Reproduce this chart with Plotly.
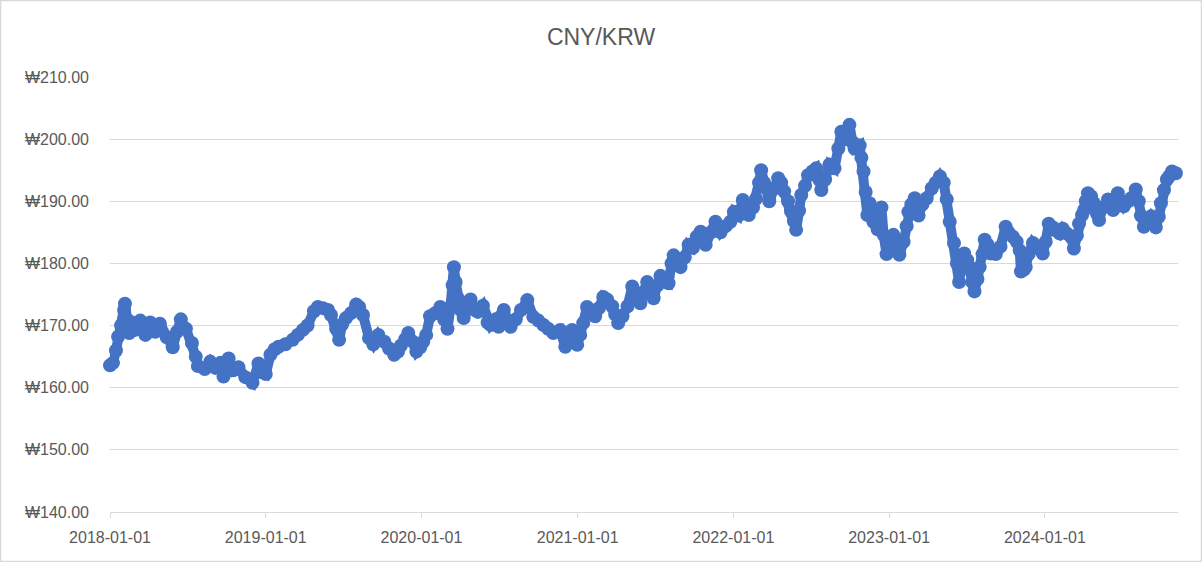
import plotly.graph_objects as go

# CNY/KRW daily rate (roughly weekly samples)
dates = [
    "2018-01-01", "2018-01-08", "2018-01-15", "2018-01-20", "2018-01-27", "2018-02-03", "2018-02-05",
    "2018-02-10", "2018-02-15", "2018-02-22", "2018-03-01", "2018-03-13", "2018-03-25", "2018-04-05",
    "2018-04-17", "2018-04-28", "2018-05-14", "2018-05-28", "2018-06-07", "2018-06-16", "2018-06-28",
    "2018-07-12", "2018-07-21", "2018-07-26", "2018-08-11", "2018-08-24", "2018-09-05", "2018-09-17",
    "2018-09-24", "2018-10-06", "2018-10-17", "2018-10-29", "2018-11-14", "2018-12-01", "2018-12-15",
    "2018-12-24",
    "2019-01-01", "2019-01-12", "2019-01-22", "2019-01-31", "2019-02-16", "2019-03-05", "2019-03-17",
    "2019-03-29", "2019-04-09", "2019-04-24", "2019-05-03", "2019-05-15", "2019-05-27", "2019-06-03",
    "2019-06-15", "2019-06-22", "2019-06-29", "2019-07-08", "2019-07-20", "2019-08-01", "2019-08-08",
    "2019-08-17", "2019-08-31", "2019-09-10", "2019-09-22", "2019-10-06", "2019-10-17", "2019-10-29",
    "2019-11-07", "2019-11-14", "2019-11-24", "2019-12-01", "2019-12-10", "2019-12-20", "2019-12-29",
    "2020-01-05", "2020-01-12", "2020-01-21", "2020-02-02", "2020-02-14", "2020-02-23", "2020-03-02",
    "2020-03-09", "2020-03-14", "2020-03-17", "2020-03-21", "2020-03-26", "2020-04-02", "2020-04-09",
    "2020-04-18", "2020-04-25", "2020-05-05", "2020-05-12", "2020-05-24", "2020-06-04", "2020-06-11",
    "2020-06-23", "2020-06-30", "2020-07-12", "2020-07-28", "2020-08-09", "2020-08-21", "2020-09-05",
    "2020-09-19", "2020-10-01", "2020-10-13", "2020-10-24", "2020-11-05", "2020-11-21", "2020-12-03",
    "2020-12-12", "2020-12-19", "2020-12-26", "2020-12-31",
    "2021-01-07", "2021-01-14", "2021-01-23", "2021-01-30", "2021-02-11", "2021-02-20", "2021-03-02",
    "2021-03-11", "2021-03-23", "2021-03-30", "2021-04-06", "2021-04-16", "2021-04-28", "2021-05-09",
    "2021-05-19", "2021-05-28", "2021-06-06", "2021-06-13", "2021-06-21", "2021-06-28", "2021-07-07",
    "2021-07-14", "2021-07-26", "2021-08-02", "2021-08-09", "2021-08-14", "2021-08-21", "2021-08-30",
    "2021-09-09", "2021-09-18", "2021-09-28", "2021-10-07", "2021-10-16", "2021-10-28", "2021-11-09",
    "2021-11-20", "2021-12-02", "2021-12-14", "2021-12-25",
    "2022-01-02", "2022-01-13", "2022-01-23", "2022-02-06", "2022-02-16", "2022-02-23", "2022-03-02",
    "2022-03-07", "2022-03-14", "2022-03-26", "2022-04-06", "2022-04-16", "2022-04-23", "2022-04-30",
    "2022-05-09", "2022-05-16", "2022-05-23", "2022-05-28", "2022-06-04", "2022-06-09", "2022-06-18",
    "2022-06-25", "2022-07-05", "2022-07-14", "2022-07-21", "2022-07-26", "2022-08-04", "2022-08-14",
    "2022-08-26", "2022-09-04", "2022-09-11", "2022-09-21", "2022-09-30", "2022-10-07", "2022-10-12",
    "2022-10-24", "2022-10-28", "2022-11-02", "2022-11-07", "2022-11-11", "2022-11-16", "2022-11-25",
    "2022-12-05", "2022-12-14", "2022-12-19", "2022-12-26",
    "2023-01-02", "2023-01-11", "2023-01-18", "2023-01-25", "2023-02-04", "2023-02-11", "2023-02-15",
    "2023-02-22", "2023-03-02", "2023-03-11", "2023-03-20", "2023-03-30", "2023-04-11", "2023-04-20",
    "2023-04-30", "2023-05-09", "2023-05-16", "2023-05-23", "2023-06-02", "2023-06-09", "2023-06-14",
    "2023-06-21", "2023-06-26", "2023-07-03", "2023-07-08", "2023-07-15", "2023-07-20", "2023-07-27",
    "2023-08-01", "2023-08-08", "2023-08-13", "2023-08-20", "2023-08-27", "2023-09-08", "2023-09-19",
    "2023-10-01", "2023-10-08", "2023-10-18", "2023-10-27", "2023-11-03", "2023-11-06", "2023-11-13",
    "2023-11-17", "2023-11-24", "2023-12-04", "2023-12-15", "2023-12-27",
    "2024-01-03", "2024-01-10", "2024-01-20", "2024-01-27", "2024-02-05", "2024-02-12", "2024-02-22",
    "2024-03-02", "2024-03-09", "2024-03-16", "2024-03-21", "2024-03-28", "2024-04-02", "2024-04-06",
    "2024-04-11", "2024-04-18", "2024-04-25", "2024-05-02", "2024-05-07", "2024-05-16", "2024-05-28",
    "2024-06-09", "2024-06-20", "2024-06-27", "2024-07-04", "2024-07-14", "2024-07-21", "2024-08-01",
    "2024-08-08", "2024-08-13", "2024-08-20", "2024-08-29", "2024-09-06", "2024-09-13", "2024-09-17",
    "2024-09-24", "2024-09-29", "2024-10-06", "2024-10-13", "2024-10-18", "2024-10-25", "2024-11-03",
]

rates = [
    163.6, 164.0, 166.0, 168.2, 170.0, 172.5, 173.5,
    171.0, 168.8, 170.5, 169.3, 170.8, 168.5, 170.5,
    169.0, 170.3, 168.1, 166.5, 169.0, 171.0, 169.5,
    167.2, 165.0, 163.5, 163.0, 164.2, 163.2, 164.0,
    161.8, 164.7, 162.8, 163.3, 161.7, 160.8, 163.9,
    162.5,
    162.2, 165.3, 166.2, 166.6, 167.0, 167.7, 168.5,
    169.3, 170.0, 172.3, 173.0, 172.8, 172.5, 171.7,
    169.5, 167.7, 170.2, 171.2, 172.0, 173.4, 173.0,
    171.7, 168.0, 167.0, 168.5, 167.4, 166.3, 165.3,
    165.8, 166.8, 167.8, 168.8, 167.5, 165.8, 166.5,
    167.4, 168.5, 171.5, 172.0, 173.0, 171.0, 169.5,
    173.0, 176.5, 179.4, 177.0, 174.4, 172.5, 171.2,
    172.8, 174.2, 172.5, 172.2, 173.2, 170.5, 170.1,
    171.0, 169.8, 172.5, 169.8, 171.0, 172.5, 174.1,
    171.4, 170.8, 170.1, 169.5, 168.8, 169.3, 166.6,
    167.5, 169.3, 167.5, 166.9,
    168.5, 170.4, 173.0, 172.0, 171.5, 172.8, 174.6,
    174.2, 173.1, 171.8, 170.4, 171.5, 173.1, 176.3,
    175.0, 173.6, 175.5, 177.0, 175.5, 174.4, 176.5,
    178.0, 177.0, 176.8, 180.0, 181.3, 180.5, 179.4,
    181.0, 183.0, 182.5, 184.3, 185.1, 183.0, 185.0,
    186.7, 185.0, 186.0, 186.7,
    188.3, 187.7, 190.2, 187.8, 189.0, 190.4, 193.0,
    195.0, 193.0, 190.0, 192.0, 193.7, 193.0, 191.6,
    190.0, 188.4, 186.8, 185.4, 188.5, 191.0, 192.5,
    194.2, 194.8, 195.3, 193.5, 191.8, 193.5, 195.9,
    195.3, 198.5, 201.2, 200.0, 202.3, 199.5, 198.5,
    199.0, 197.0, 194.8, 191.5, 187.8, 189.7, 186.7,
    185.5, 189.0, 184.6, 181.5,
    183.5, 184.6, 182.5, 181.4, 183.5, 186.0, 188.3,
    189.5, 190.5, 187.7, 189.5, 190.5, 192.1, 193.0,
    194.0, 193.0, 190.3, 186.7, 183.3, 180.0, 177.0,
    180.5, 181.6, 180.5, 179.4, 177.0, 175.5, 177.5,
    179.4, 181.5, 183.8, 183.0, 181.6, 181.5, 182.7,
    185.9, 185.0, 184.3, 183.5, 182.1, 178.7, 179.0,
    179.4, 181.5, 183.3, 182.5, 181.6,
    183.5, 186.4, 185.8, 185.3, 184.8, 185.6, 184.8,
    184.3, 182.4, 184.5, 186.4, 187.8, 188.6, 190.0,
    191.3, 190.8, 189.7, 188.0, 187.0, 189.0, 190.3,
    188.6, 191.3, 190.0, 189.2, 190.0, 190.5, 191.9,
    190.0, 187.7, 185.9, 186.8, 187.6, 187.0, 185.8,
    187.5, 189.7, 191.8, 193.5, 194.0, 194.8, 194.5,
]

BLUE = '#4472C4'
GRID = '#d9d9d9'
TEXT = '#595959'

fig = go.Figure()
fig.add_trace(go.Scatter(
    x=dates, y=rates, mode='lines+markers',
    line=dict(color=BLUE, width=10),
    marker=dict(color=BLUE, size=14),
    cliponaxis=False, showlegend=False,
))

fig.update_layout(
    width=1202, height=562,
    margin=dict(l=110, r=24, t=77, b=50),
    paper_bgcolor='white', plot_bgcolor='white',
    font=dict(family='Liberation Sans, Arial', size=16, color=TEXT),
    title=dict(text='CNY/KRW', x=0.5, xanchor='center', y=0.934, yanchor='middle',
               font=dict(size=23, color=TEXT)),
    showlegend=False,
)
fig.update_xaxes(
    type='date', range=['2018-01-01', '2024-11-08'],
    tick0='2018-01-01', dtick='M12', tickformat='%Y-%m-%d',
    showgrid=False, showline=True, linecolor=GRID, linewidth=1,
    ticks='outside', ticklen=5, tickcolor=GRID, zeroline=False,
    ticklabelstandoff=6, automargin=False,
)
fig.update_yaxes(
    range=[140, 210], dtick=10, tickprefix='₩', tickformat=',.2f',
    showgrid=True, gridcolor=GRID, gridwidth=1, zeroline=False,
    ticklabelstandoff=20, automargin=False,
)
# chart frame
fig.add_shape(type='rect', xref='paper', yref='paper',
              x0=-0.1025, x1=1.0220, y0=-0.1138, y1=1.1759,
              line=dict(color=GRID, width=1.5), layer='below')

# page has a default body margin; drop it so the chart fills the window
fig.write_html("out.html", config={'displayModeBar': False},
               post_script="document.body.style.margin='0';")
